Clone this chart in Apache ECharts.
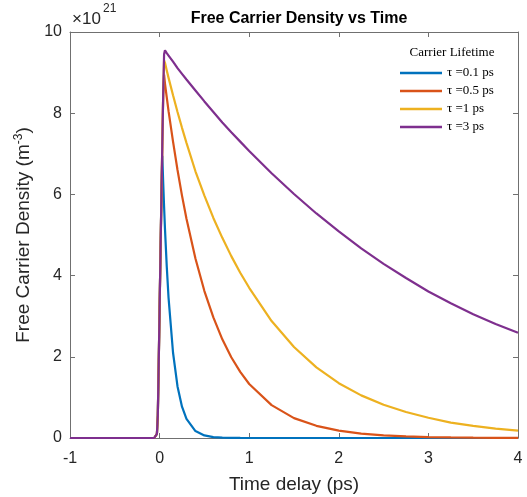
<!DOCTYPE html>
<html>
<head>
<meta charset="utf-8">
<script src="https://cdn.jsdelivr.net/npm/echarts@6/dist/echarts.min.js"></script>
<style>
  html, body { margin: 0; padding: 0; background: #fff; }
  #chart { width: 527px; height: 497px; }
</style>
</head>
<body>
<div id="chart"></div>
<script>
// Time delay samples (ps)
const timePs = [-1, -0.5, -0.1, -0.06, -0.04, -0.03, -0.02, -0.01, 0, 0.01, 0.02, 0.03, 0.04, 0.05, 0.06, 0.08,
  0.1, 0.15, 0.2, 0.25, 0.3, 0.4, 0.5, 0.6, 0.7, 0.8, 0.9, 1.0, 1.25, 1.5, 1.75, 2.0, 2.25, 2.5, 2.75,
  3.0, 3.25, 3.5, 3.75, 4.0];

// Free carrier density, units of 1e21 m^-3
const tau01 = [0, 0, 0, 0, 0.02, 0.1, 0.55, 1.8, 3.2, 4.55, 5.9, 6.95, 6.3, 5.7, 5.15, 4.22,
  3.45, 2.1, 1.27, 0.77, 0.47, 0.17, 0.064, 0.023, 0.009, 0.003, 0.001, 0, 0, 0, 0, 0, 0, 0, 0,
  0, 0, 0, 0, 0];
const tau05 = [0, 0, 0, 0, 0.02, 0.1, 0.55, 1.8, 3.2, 4.55, 5.9, 7.2, 8.45, 8.95, 8.73, 8.39,
  8.05, 7.30, 6.60, 5.97, 5.40, 4.42, 3.62, 2.97, 2.43, 1.99, 1.63, 1.33, 0.81, 0.49, 0.30, 0.18, 0.11, 0.066, 0.040,
  0.024, 0.015, 0.009, 0.005, 0.003];
const tau1 = [0, 0, 0, 0, 0.02, 0.1, 0.55, 1.8, 3.2, 4.55, 5.9, 7.2, 8.45, 9.3, 9.24, 9.05,
  8.87, 8.44, 8.03, 7.64, 7.27, 6.57, 5.97, 5.42, 4.93, 4.48, 4.07, 3.70, 2.88, 2.24, 1.74, 1.35, 1.05, 0.82, 0.64,
  0.50, 0.38, 0.30, 0.23, 0.18];
const tau3 = [0, 0, 0, 0, 0.02, 0.1, 0.55, 1.8, 3.2, 4.55, 5.9, 7.2, 8.45, 9.45, 9.55, 9.48,
  9.42, 9.27, 9.11, 8.97, 8.83, 8.56, 8.29, 8.03, 7.77, 7.53, 7.30, 7.07, 6.52, 6.01, 5.53, 5.09, 4.67, 4.29, 3.94,
  3.61, 3.32, 3.05, 2.81, 2.59];

const seriesNames = ['\u03C4 =0.1 ps', '\u03C4 =0.5 ps', '\u03C4 =1 ps', '\u03C4 =3 ps'];
const seriesValues = [tau01, tau05, tau1, tau3];
const seriesColors = ['#0072BD', '#D95319', '#EDB120', '#7E2F8E'];

const xTicks = { min: -1, max: 4, interval: 1 };
const yTicks = { min: 0, max: 10, interval: 2 };

const axisColor = '#262626';
const lineColor = '#707070';
const sans = 'Liberation Sans, Arial, Helvetica, sans-serif';
const serif = 'Liberation Serif, DejaVu Serif, serif';

const chart = echarts.init(document.getElementById('chart'), null, { renderer: 'canvas' });

function pairs(values) {
  return timePs.map((t, i) => [t, values[i]]);
}

const boxTick = { show: true, inside: true, length: 5, lineStyle: { color: lineColor, width: 1 } };
const boxLine = { show: true, onZero: false, lineStyle: { color: lineColor, width: 1 } };

chart.setOption({
  animation: false,
  backgroundColor: '#ffffff',
  title: {
    text: 'Free Carrier Density vs Time',
    left: 294, top: 6, textAlign: 'center',
    textStyle: { fontFamily: sans, fontSize: 16, fontWeight: 'bold', color: '#000' }
  },
  grid: { left: 70, right: 9, top: 32, bottom: 59, containLabel: false, outerBoundsMode: 'none' },
  legend: {
    data: seriesNames,
    orient: 'vertical',
    left: 400, top: 64,
    padding: 0,
    icon: 'rect',
    itemWidth: 42, itemHeight: 2.5,
    itemGap: 0,
    align: 'left',
    textStyle: { fontFamily: serif, fontSize: 13, lineHeight: 18, color: '#000' }
  },
  xAxis: [
    {
      type: 'value', position: 'bottom', ...xTicks,
      axisLine: boxLine,
      axisTick: boxTick,
      splitLine: { show: false },
      axisLabel: { fontFamily: sans, fontSize: 16, color: axisColor, margin: 13 },
      name: 'Time delay (ps)', nameLocation: 'middle', nameGap: 37,
      nameTextStyle: { fontFamily: sans, fontSize: 19, color: axisColor }
    },
    {
      type: 'value', position: 'top', ...xTicks,
      axisLine: boxLine,
      axisTick: boxTick,
      splitLine: { show: false },
      axisLabel: { show: false }
    }
  ],
  yAxis: [
    {
      type: 'value', position: 'left', ...yTicks,
      axisLine: boxLine,
      axisTick: boxTick,
      splitLine: { show: false },
      axisLabel: { fontFamily: sans, fontSize: 16, color: axisColor, margin: 8 },
      name: 'Free Carrier Density (m{sup|-3})', nameLocation: 'middle', nameGap: 35, nameRotate: 90,
      nameTextStyle: {
        fontFamily: sans, fontSize: 19, color: axisColor,
        rich: { sup: { fontFamily: sans, fontSize: 12, color: axisColor, verticalAlign: 'top', padding: [0, 0, 10, 0] } }
      }
    },
    {
      type: 'value', position: 'right', ...yTicks,
      axisLine: boxLine,
      axisTick: boxTick,
      splitLine: { show: false },
      axisLabel: { show: false }
    }
  ],
  graphic: [
    {
      type: 'text', x: 72, y: 11,
      style: { text: '\u00D710', fontFamily: sans, fontSize: 17, fill: axisColor }
    },
    {
      type: 'text', x: 103, y: 3,
      style: { text: '21', fontFamily: sans, fontSize: 12, fill: axisColor }
    },
    {
      type: 'text', x: 452, y: 46,
      style: { text: 'Carrier Lifetime', fontFamily: serif, fontSize: 13, fill: '#000', align: 'center' }
    }
  ],
  series: seriesNames.map((name, i) => ({
    name: name,
    type: 'line',
    xAxisIndex: 0, yAxisIndex: 0,
    data: pairs(seriesValues[i]),
    showSymbol: false,
    symbol: 'none',
    lineStyle: { color: seriesColors[i], width: 2.2 },
    itemStyle: { color: seriesColors[i] },
    z: 2 + i
  }))
});
</script>
</body>
</html>
